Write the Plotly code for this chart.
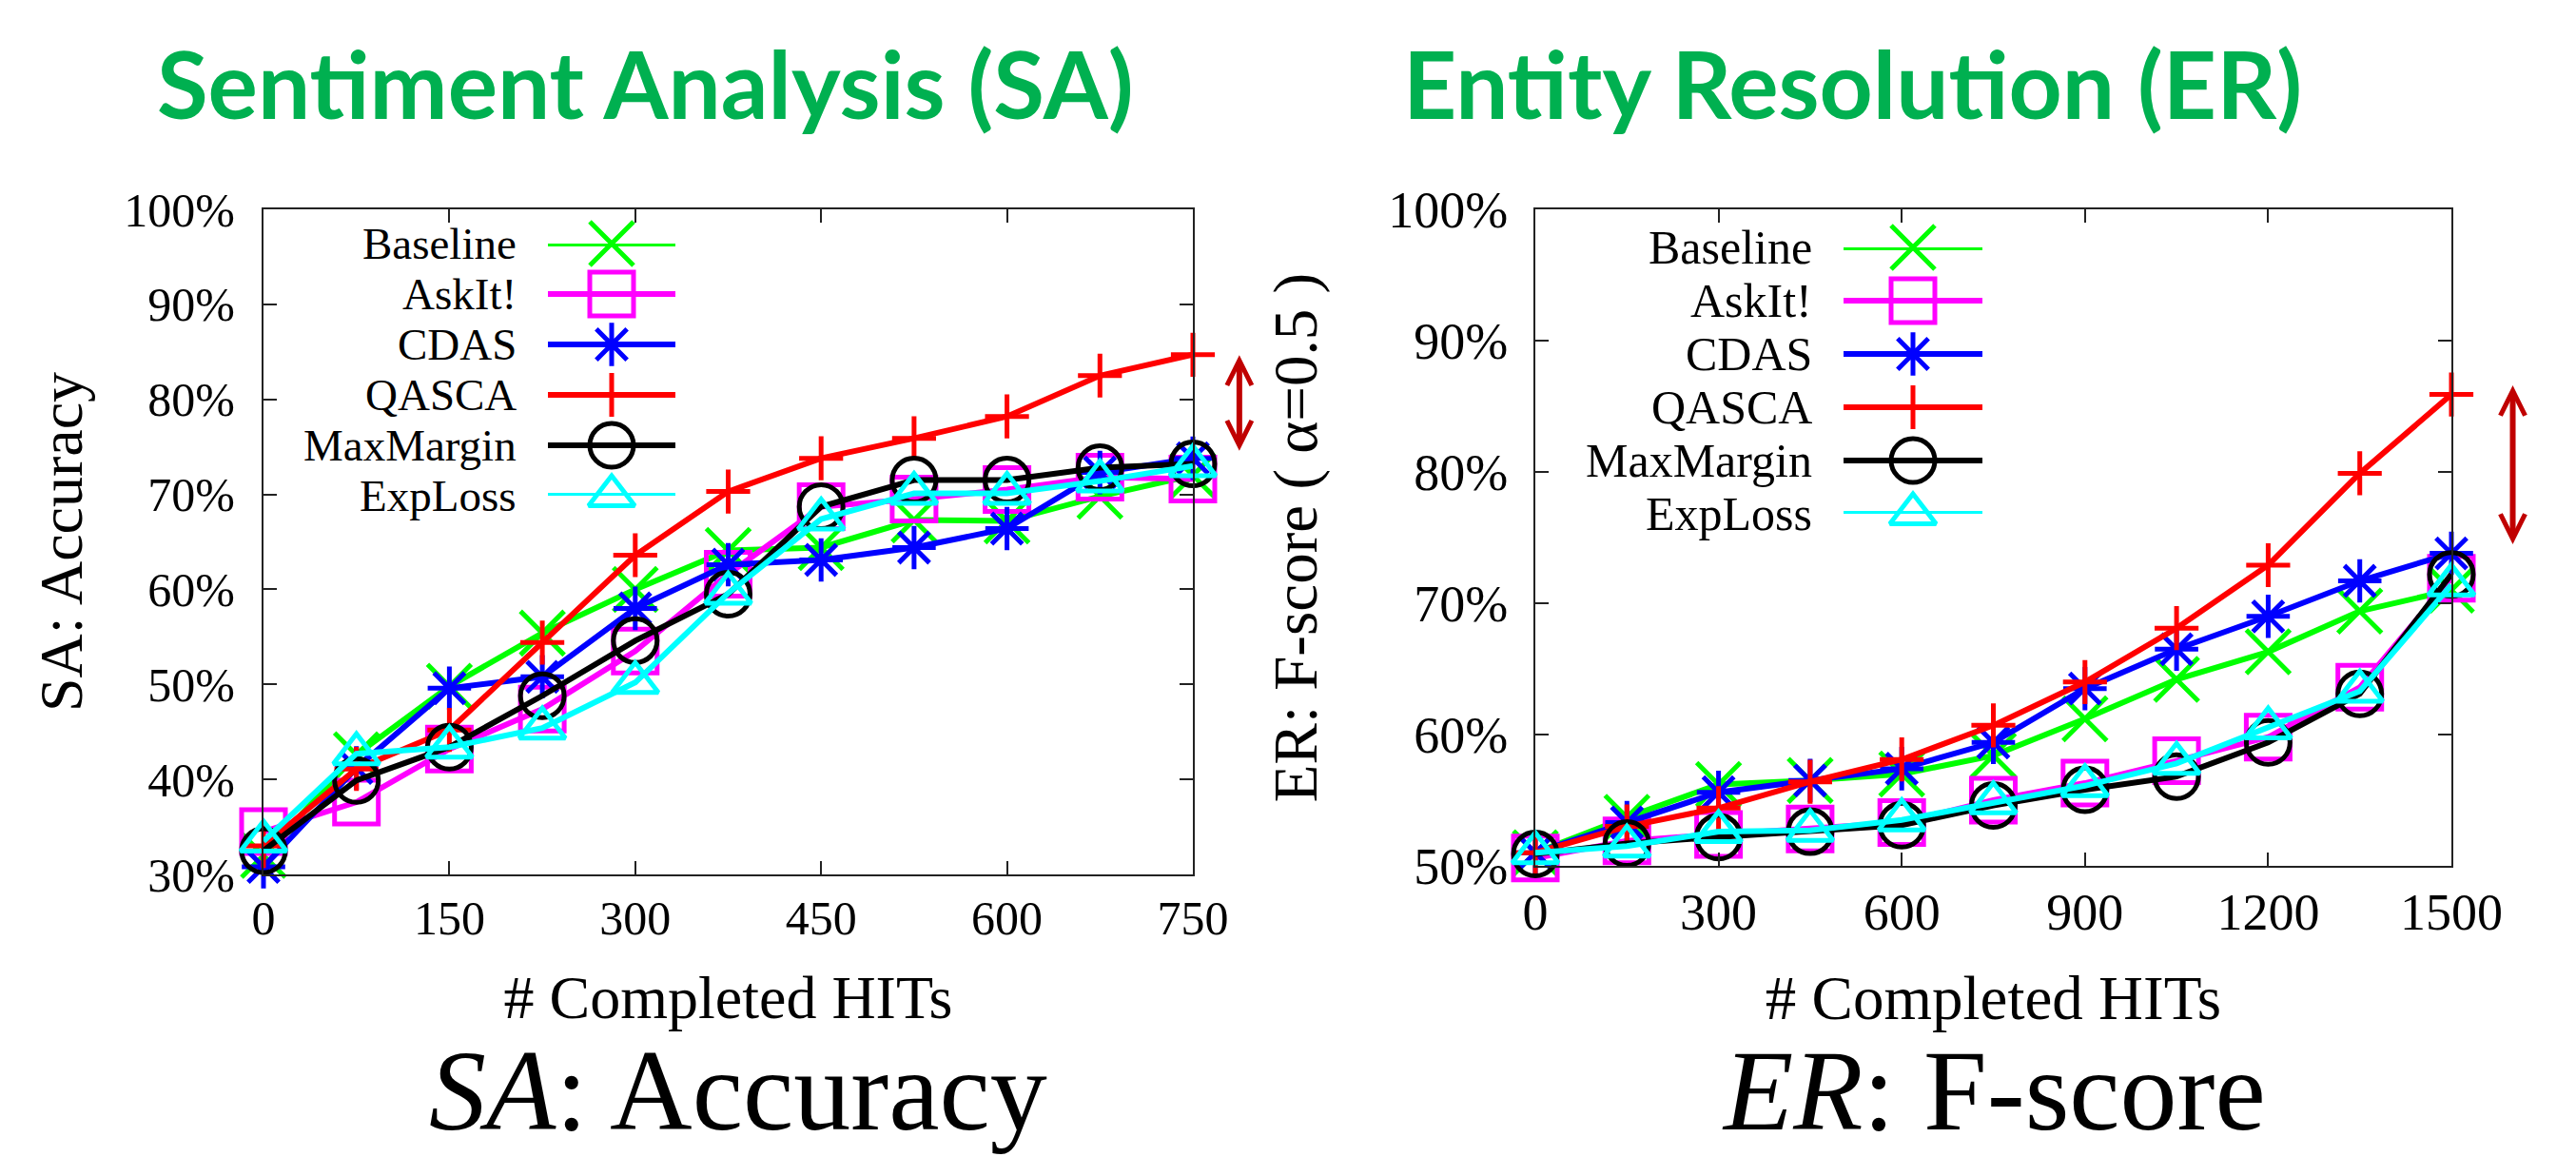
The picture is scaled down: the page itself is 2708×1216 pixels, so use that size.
import plotly.graph_objects as go

# ---------------- data ----------------
series_names = ["Baseline", "AskIt!", "CDAS", "QASCA", "MaxMargin", "ExpLoss"]

sa_hits = [0, 75, 150, 225, 300, 375, 450, 525, 600, 675, 750]
sa_baseline = [32.0, 42.6, 49.8, 55.4, 60.0, 64.1, 64.4, 67.3, 67.2, 69.8, 72.0]
sa_askit = [34.5, 37.6, 43.2, 47.4, 53.5, 61.6, 68.7, 69.5, 70.5, 71.8, 71.6]
sa_cdas = [30.8, 41.2, 49.6, 50.8, 58.0, 62.6, 63.1, 64.4, 66.4, 72.3, 73.8]
sa_qasca = [33.0, 41.1, 45.2, 54.4, 63.6, 70.3, 73.8, 75.9, 78.2, 82.5, 84.7]
sa_maxmargin = [32.5, 39.9, 43.4, 48.8, 54.6, 59.5, 68.7, 71.5, 71.5, 72.8, 73.2]
sa_exploss = [33.5, 42.7, 43.4, 45.4, 50.2, 59.6, 67.4, 70.1, 70.1, 71.4, 73.0]

er_hits = [0, 150, 300, 450, 600, 750, 900, 1050, 1200, 1350, 1500]
er_baseline = [51.0, 53.7, 56.2, 56.5, 57.0, 58.4, 61.2, 64.2, 66.3, 69.4, 71.0]
er_askit = [50.6, 51.9, 52.4, 52.8, 53.3, 55.0, 56.3, 58.0, 59.8, 63.6, 71.9]
er_cdas = [51.0, 53.3, 55.6, 56.5, 57.4, 59.4, 63.5, 66.5, 69.0, 71.7, 73.8]
er_qasca = [51.0, 53.0, 54.4, 56.4, 58.1, 60.7, 64.0, 68.1, 72.9, 79.9, 85.9]
er_maxmargin = [50.9, 51.7, 52.2, 52.6, 53.1, 54.6, 55.8, 56.8, 59.4, 63.1, 72.2]
er_exploss = [51.0, 51.5, 52.6, 52.7, 53.5, 54.8, 56.1, 57.8, 60.5, 63.3, 71.4]

sa_ticks_x = [0, 150, 300, 450, 600, 750]
er_ticks_x = [0, 300, 600, 900, 1200, 1500]

# ---------------- styles ----------------
W, H = 2708, 1216
SERIF = "Liberation Serif, Times New Roman, serif"
colors = ["#00ff00", "#ff00ff", "#0000ff", "#ff0000", "#000000", "#00ffff"]
symbols = ["x-thin", "square-open", "asterisk-open", "cross-thin", "circle-open", "triangle-up-open"]
msizes = [46, 46, 38, 33, 46, 42]
LW = 6
MLW = 5

sa_vals = [sa_baseline, sa_askit, sa_cdas, sa_qasca, sa_maxmargin, sa_exploss]
er_vals = [er_baseline, er_askit, er_cdas, er_qasca, er_maxmargin, er_exploss]


def px_x(p):
    return p / W


def px_y(p):
    return (H - p) / H


fig = go.Figure()

for i, name in enumerate(series_names):
    for xs, ys, xa, ya in [(sa_hits, sa_vals[i], "x", "y"), (er_hits, er_vals[i], "x2", "y2")]:
        fig.add_trace(go.Scatter(
            x=xs, y=ys, name=name, mode="lines+markers",
            xaxis=xa, yaxis=ya, showlegend=False, cliponaxis=False,
            line=dict(color=colors[i], width=LW),
            marker=dict(symbol=symbols[i], size=msizes[i], color=colors[i],
                        line=dict(color=colors[i], width=MLW)),
        ))

# gnuplot-style keys (text on the left, sample on the right), one row per series
for xa, ya in [("x3", "y3"), ("x4", "y4")]:
    for i, name in enumerate(series_names):
        fig.add_trace(go.Scatter(
            x=[0, 1, 2], y=[i, i, i], mode="lines+markers",
            xaxis=xa, yaxis=ya, showlegend=False, cliponaxis=False, hoverinfo="skip",
            line=dict(color=colors[i], width=LW),
            marker=dict(symbol=symbols[i], size=msizes[i], color=colors[i], opacity=[0, 1, 0],
                        line=dict(color=colors[i], width=MLW)),
        ))

axis_common = dict(
    showline=True, mirror="ticks", linecolor="#222", linewidth=2,
    ticks="inside", ticklen=14, tickwidth=2, tickcolor="#222",
    showgrid=False, zeroline=False, fixedrange=True, automargin=False,
)
hidden = dict(visible=False, fixedrange=True, automargin=False)

fig.update_layout(
    width=W, height=H,
    margin=dict(l=0, r=0, t=0, b=0, pad=0),
    autosize=False,
    paper_bgcolor="white", plot_bgcolor="white",
    showlegend=False,
    font=dict(family=SERIF, color="black"),
    xaxis=dict(domain=[px_x(277), px_x(1254)], range=[0, 750], anchor="y",
               tickvals=sa_ticks_x, tickfont=dict(size=50, family=SERIF), ticklabelstandoff=1,
               title=dict(text="# Completed HITs", font=dict(size=64, family=SERIF), standoff=33),
               **axis_common),
    yaxis=dict(domain=[px_y(919), px_y(220)], range=[30, 100], anchor="x",
               dtick=10, ticksuffix="%", tickfont=dict(size=50, family=SERIF), ticklabelstandoff=18,
               title=dict(text="SA: Accuracy", font=dict(size=64, family=SERIF), standoff=23),
               **axis_common),
    xaxis2=dict(domain=[px_x(1614), px_x(2577)], range=[0, 1500], anchor="y2",
                tickvals=er_ticks_x, tickfont=dict(size=54, family=SERIF), ticklabelstandoff=0,
                title=dict(text="# Completed HITs", font=dict(size=65, family=SERIF), standoff=38),
                **axis_common),
    yaxis2=dict(domain=[px_y(910), px_y(220)], range=[50, 100], anchor="x2",
                dtick=10, ticksuffix="%", tickfont=dict(size=54, family=SERIF), ticklabelstandoff=16,
                title=dict(text="ER: F-score ( α=0.5 )", font=dict(size=65, family=SERIF), standoff=53),
                **axis_common),
    xaxis3=dict(domain=[px_x(576), px_x(710)], range=[0, 2], anchor="y3", **hidden),
    yaxis3=dict(domain=[px_y(521), px_y(256)], range=[5, 0], anchor="x3", **hidden),
    xaxis4=dict(domain=[px_x(1938), px_x(2084)], range=[0, 2], anchor="y4", **hidden),
    yaxis4=dict(domain=[px_y(540), px_y(260)], range=[5, 0], anchor="x4", **hidden),
)

annotations = []
# key labels
for xr, yr, fs in [("x3", "y3", 47), ("x4", "y4", 50)]:
    for i, name in enumerate(series_names):
        annotations.append(dict(
            text=name, x=0, y=i, xref=xr, yref=yr, xanchor="right", yanchor="middle",
            xshift=-32, showarrow=False, borderpad=0, font=dict(family=SERIF, size=fs, color="black"),
        ))

# top titles
TITLE_FONT = dict(family="Lato, Carlito, Calibri, sans-serif", size=98, color="#00b050", weight=700)
annotations.append(dict(text="Sentiment Analysis (SA)", x=px_x(678), y=px_y(87), xref="paper", yref="paper",
                        xanchor="center", yanchor="middle", showarrow=False, font=TITLE_FONT))
annotations.append(dict(text="Entity Resolution (ER)", x=px_x(1947), y=px_y(87), xref="paper", yref="paper",
                        xanchor="center", yanchor="middle", showarrow=False, font=TITLE_FONT))

# bottom captions (kept fully inside the page)
CAP_FONT = dict(family=SERIF, size=120, color="black")
annotations.append(dict(text="<i>SA</i>: Accuracy", x=px_x(776), y=px_y(1214), xref="paper", yref="paper",
                        xanchor="center", yanchor="bottom", borderpad=0, showarrow=False, font=CAP_FONT))
annotations.append(dict(text="<i>ER</i>: F-score", x=px_x(2096), y=px_y(1214), xref="paper", yref="paper",
                        xanchor="center", yanchor="bottom", borderpad=0, showarrow=False, font=CAP_FONT))

# gap arrows between QASCA and the best competitor at the final point
ARROW = "#c00000"
sa_others_last = max(v[-1] for j, v in enumerate(sa_vals) if j != 3)
er_others_last = max(v[-1] for j, v in enumerate(er_vals) if j != 3)
annotations.append(dict(text="", xref="x domain", yref="y", axref="x domain", ayref="y",
                        x=1.05, y=sa_others_last + 0.8, ax=1.05, ay=sa_qasca[-1] + 0.1,
                        showarrow=True, arrowside="end+start", arrowhead=5, startarrowhead=5,
                        arrowwidth=6, arrowsize=0.85, startarrowsize=0.85, arrowcolor=ARROW,
                        standoff=0, startstandoff=0))
annotations.append(dict(text="", xref="x2 domain", yref="y2", axref="x2 domain", ayref="y2",
                        x=1.067, y=er_others_last + 0.7, ax=1.067, ay=er_qasca[-1] + 0.8,
                        showarrow=True, arrowside="end+start", arrowhead=5, startarrowhead=5,
                        arrowwidth=6, arrowsize=0.85, startarrowsize=0.85, arrowcolor=ARROW,
                        standoff=0, startstandoff=0))

fig.update_layout(annotations=annotations)

fig.write_html("out.html", config={"displayModeBar": False},
               post_script="document.body.style.margin='0';")
